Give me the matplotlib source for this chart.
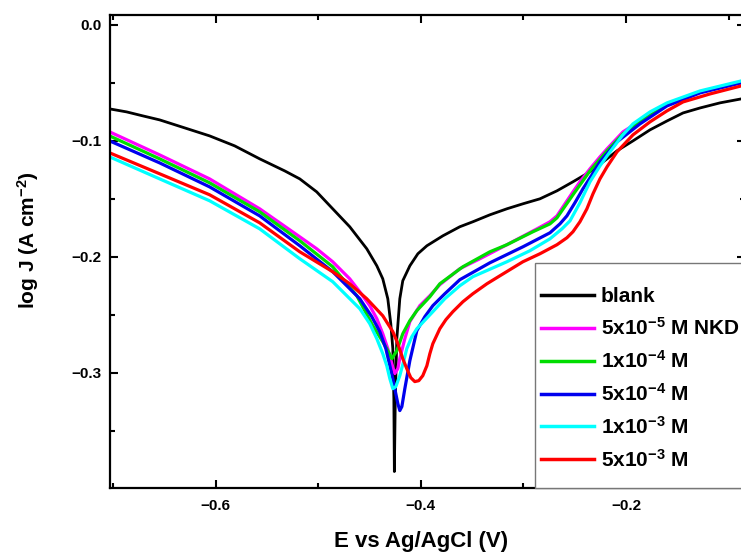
import numpy as np
import matplotlib
matplotlib.use("Agg")
import matplotlib.pyplot as plt
from matplotlib.ticker import MultipleLocator
from matplotlib.patches import Rectangle

plt.rcParams['font.family'] = ['Liberation Sans', 'DejaVu Sans']
plt.rcParams['font.weight'] = 'bold'
plt.rcParams['mathtext.fontset'] = 'custom'
plt.rcParams['mathtext.rm'] = 'Liberation Sans:bold'
plt.rcParams['mathtext.bf'] = 'Liberation Sans:bold'
plt.rcParams['mathtext.default'] = 'bf'

# potential E (V vs Ag/AgCl) and log J for each solution
E_blank = [-0.7034, -0.6868, -0.6712, -0.6546, -0.6302, -0.6059, -0.5815, -0.5571, -0.5327,
           -0.5180, -0.5015, -0.4859, -0.4693, -0.4527, -0.4429, -0.4371, -0.4322, -0.4293,
           -0.4273, -0.4263, -0.4258,
           -0.4249, -0.4234, -0.4205, -0.4176, -0.4107, -0.4029, -0.3941, -0.3785, -0.3620,
           -0.3493, -0.3327, -0.3161, -0.3005, -0.2839, -0.2673, -0.2517, -0.2351, -0.2185,
           -0.2088, -0.1932, -0.1766, -0.1600, -0.1444, -0.1278, -0.1083, -0.0878]
J_blank = [-0.0724, -0.0750, -0.0784, -0.0819, -0.0888, -0.0957, -0.1043, -0.1155, -0.1259,
           -0.1328, -0.1440, -0.1586, -0.1741, -0.1931, -0.2078, -0.2190, -0.2362, -0.2577,
           -0.2793, -0.3224, -0.3853,
           -0.3224, -0.2707, -0.2362, -0.2207, -0.2078, -0.1974, -0.1905, -0.1819, -0.1741,
           -0.1698, -0.1638, -0.1586, -0.1543, -0.1500, -0.1431, -0.1353, -0.1267, -0.1155,
           -0.1086, -0.1000, -0.0905, -0.0828, -0.0759, -0.0716, -0.0672, -0.0638]

E_5e5 = [-0.7034, -0.6546, -0.6059, -0.5571, -0.5180, -0.5015, -0.4859, -0.4693, -0.4595,
         -0.4498, -0.4429, -0.4371, -0.4322, -0.4283, -0.4254, -0.4224, -0.4205, -0.4156,
         -0.4107, -0.4010, -0.3912, -0.3815, -0.3620, -0.3424, -0.3161, -0.2868, -0.2741,
         -0.2673, -0.2595, -0.2517, -0.2449, -0.2351, -0.2254, -0.2185, -0.2029, -0.1863,
         -0.1600, -0.1278, -0.0878]
J_5e5 = [-0.0922, -0.1121, -0.1328, -0.1586, -0.1828, -0.1931, -0.2043, -0.2190, -0.2302,
         -0.2422, -0.2534, -0.2664, -0.2793, -0.2922, -0.3008, -0.2965, -0.2879, -0.2707,
         -0.2560, -0.2422, -0.2336, -0.2241, -0.2103, -0.2017, -0.1896, -0.1759, -0.1698,
         -0.1647, -0.1543, -0.1440, -0.1353, -0.1241, -0.1138, -0.1069, -0.0922, -0.0828,
         -0.0690, -0.0578, -0.0491]

E_1e4 = [-0.7034, -0.6546, -0.6059, -0.5571, -0.5180, -0.4859, -0.4624, -0.4468, -0.4371,
         -0.4332, -0.4283, -0.4234, -0.4176, -0.4107, -0.4039, -0.3912, -0.3815, -0.3590,
         -0.3327, -0.3161, -0.2907, -0.2741, -0.2673, -0.2517, -0.2351, -0.2185, -0.2029,
         -0.1863, -0.1600, -0.1278, -0.0878]
J_1e4 = [-0.0957, -0.1155, -0.1362, -0.1612, -0.1862, -0.2086, -0.2336, -0.2595, -0.2733,
         -0.2793, -0.2879, -0.2810, -0.2664, -0.2551, -0.2465, -0.2345, -0.2233, -0.2086,
         -0.1957, -0.1896, -0.1784, -0.1716, -0.1664, -0.1465, -0.1259, -0.1086, -0.0940,
         -0.0836, -0.0690, -0.0578, -0.0491]

E_5e4 = [-0.7034, -0.6546, -0.6059, -0.5571, -0.5180, -0.4859, -0.4595, -0.4478, -0.4400,
         -0.4341, -0.4302, -0.4273, -0.4254, -0.4224, -0.4205, -0.4185, -0.4156, -0.4107,
         -0.4039, -0.3961, -0.3883, -0.3766, -0.3620, -0.3327, -0.3005, -0.2741, -0.2644,
         -0.2576, -0.2498, -0.2420, -0.2332, -0.2254, -0.2088, -0.1863, -0.1600, -0.1278,
         -0.0878]
J_5e4 = [-0.1000, -0.1190, -0.1397, -0.1647, -0.1905, -0.2129, -0.2362, -0.2517, -0.2646,
         -0.2793, -0.2940, -0.3052, -0.3138, -0.3267, -0.3327, -0.3293, -0.3138, -0.2896,
         -0.2638, -0.2517, -0.2422, -0.2319, -0.2198, -0.2052, -0.1914, -0.1793, -0.1716,
         -0.1647, -0.1534, -0.1414, -0.1293, -0.1181, -0.1009, -0.0853, -0.0698, -0.0586,
         -0.0500]

E_1e3 = [-0.7034, -0.6546, -0.6059, -0.5571, -0.5180, -0.4859, -0.4595, -0.4498, -0.4429,
         -0.4371, -0.4332, -0.4302, -0.4273, -0.4244, -0.4205, -0.4166, -0.4137, -0.4088,
         -0.4039, -0.3883, -0.3766, -0.3620, -0.3493, -0.3161, -0.2937, -0.2741, -0.2624,
         -0.2546, -0.2449, -0.2351, -0.2254, -0.2156, -0.2039, -0.1932, -0.1766, -0.1600,
         -0.1278, -0.0878]
J_1e3 = [-0.1138, -0.1328, -0.1517, -0.1759, -0.2017, -0.2215, -0.2448, -0.2577, -0.2707,
         -0.2836, -0.2940, -0.3052, -0.3138, -0.3121, -0.3026, -0.2896, -0.2793, -0.2690,
         -0.2621, -0.2474, -0.2362, -0.2250, -0.2172, -0.2043, -0.1948, -0.1845, -0.1759,
         -0.1690, -0.1534, -0.1353, -0.1216, -0.1095, -0.0957, -0.0853, -0.0750, -0.0672,
         -0.0569, -0.0483]

E_5e3 = [-0.7034, -0.6546, -0.6059, -0.5571, -0.5180, -0.4859, -0.4693, -0.4527, -0.4371,
         -0.4273, -0.4224, -0.4176, -0.4137, -0.4098, -0.4059, -0.4020, -0.3981, -0.3941,
         -0.3912, -0.3883, -0.3815, -0.3756, -0.3688, -0.3590, -0.3493, -0.3356, -0.3229,
         -0.3005, -0.2839, -0.2673, -0.2576, -0.2517, -0.2449, -0.2381, -0.2322, -0.2254,
         -0.2185, -0.2088, -0.1932, -0.1766, -0.1600, -0.1444, -0.1181, -0.0878]
J_5e3 = [-0.1103, -0.1284, -0.1465, -0.1707, -0.1957, -0.2129, -0.2233, -0.2362, -0.2509,
         -0.2646, -0.2750, -0.2879, -0.2965, -0.3043, -0.3077, -0.3069, -0.3026, -0.2940,
         -0.2836, -0.2750, -0.2621, -0.2543, -0.2474, -0.2388, -0.2319, -0.2233, -0.2164,
         -0.2043, -0.1974, -0.1896, -0.1836, -0.1784, -0.1698, -0.1586, -0.1457, -0.1328,
         -0.1224, -0.1095, -0.0948, -0.0836, -0.0741, -0.0664, -0.0595, -0.0526]

labels = ['blank', '5x10$^{-5}$ M NKD', '1x10$^{-4}$ M', '5x10$^{-4}$ M',
          '1x10$^{-3}$ M', '5x10$^{-3}$ M']
colors = ['black', '#ff00ff', '#00dd00', '#0000ee', '#00ffff', '#ff0000']
series = [(E_blank, J_blank), (E_5e5, J_5e5), (E_1e4, J_1e4),
          (E_5e4, J_5e4), (E_1e3, J_1e3), (E_5e3, J_5e3)]

fig = plt.figure(figsize=(7.41, 5.53), dpi=100)
ax = fig.add_axes([110/741, 1 - 488/553, 635/741, 473/553])

for (E, J), c, lab in zip(series, colors, labels):
    lw = 2.0 if c == 'black' else 2.3
    ax.plot(E, J, color=c, lw=lw, label=lab, solid_joinstyle='round')

ax.set_xlim(-0.703, -0.084)
ax.set_ylim(-0.3995, 0.0086)
ax.xaxis.set_major_locator(MultipleLocator(0.2))
ax.xaxis.set_minor_locator(MultipleLocator(0.1))
ax.yaxis.set_major_locator(MultipleLocator(0.1))
ax.yaxis.set_minor_locator(MultipleLocator(0.05))
ax.tick_params(which='both', direction='in', top=True, right=True, width=1.5,
               labelsize=11)
ax.tick_params(which='major', length=6)
ax.tick_params(which='minor', length=3.5)
ax.tick_params(axis='x', pad=8)
ax.tick_params(axis='y', pad=6)
for s in ax.spines.values():
    s.set_linewidth(1.6)

fig.text(421/741, 1 - 541/553, 'E vs Ag/AgCl (V)', fontsize=16, fontweight='bold',
         ha='center', va='center')
fig.text(28/741, 1 - 240/553, 'log J (A cm$^{-2}$)', fontsize=15, fontweight='bold',
         ha='center', va='center', rotation=90)

# legend box runs past the right edge and sits on the bottom spine
ax.add_patch(Rectangle((535/741, 1 - 488/553), 220/741, 225/553,
                       transform=fig.transFigure, facecolor='white',
                       edgecolor='#777777', linewidth=1.0, zorder=3, clip_on=False))
leg = ax.legend(loc='upper left', bbox_to_anchor=(541/741, 1 - 287/553),
                bbox_transform=fig.transFigure, borderaxespad=0, borderpad=0,
                fontsize=15, frameon=False, handlelength=2.55, handletextpad=0.33,
                labelspacing=0.53)
leg.set_zorder(5)
for line in leg.get_lines():
    line.set_linewidth(2.5)

fig.savefig('out.png', dpi=100)
